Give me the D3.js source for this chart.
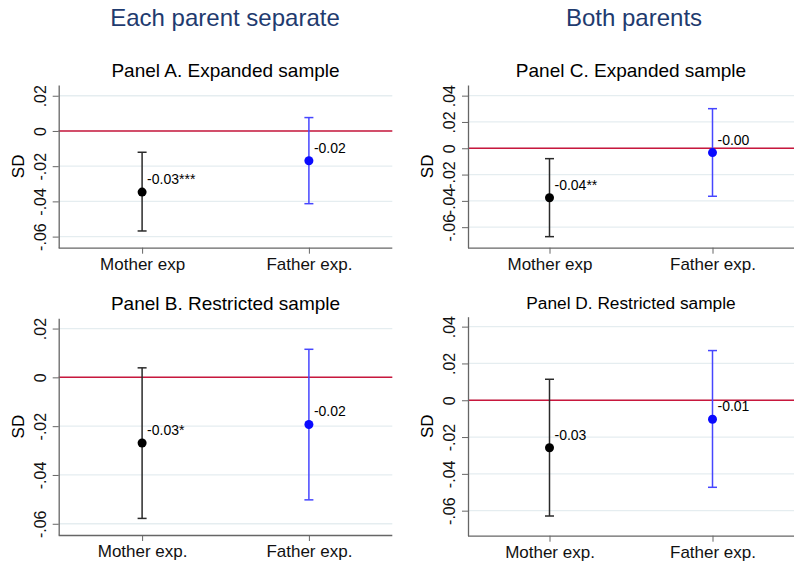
<!DOCTYPE html>
<html>
<head>
<meta charset="utf-8">
<script src="https://cdn.jsdelivr.net/npm/d3@7"></script>
<style>
  body { margin: 0; background: #fff; }
  text { font-family: "Liberation Sans", Arial, sans-serif; }
</style>
</head>
<body>
<div id="chart"></div>
<script>
// values (point estimate, lower / upper CI, label)
const catsExpanded = ["Mother exp", "Father exp."];
const catsRestricted = ["Mother exp.", "Father exp."];

const estA = [-0.0347, -0.0169], loA = [-0.0568, -0.0413], hiA = [-0.0121, 0.0076];
const labA = ["-0.03***", "-0.02"];
const estB = [-0.0269, -0.0193], loB = [-0.0578, -0.0502], hiB = [0.0039, 0.0115];
const labB = ["-0.03*", "-0.02"];
const estC = [-0.0376, -0.0033], loC = [-0.0672, -0.0365], hiC = [-0.0079, 0.0301];
const labC = ["-0.04**", "-0.00"];
const estD = [-0.0258, -0.0103], loD = [-0.0629, -0.0473], hiD = [0.0114, 0.0270];
const labD = ["-0.03", "-0.01"];

const ticksSeparate = [-0.06, -0.04, -0.02, 0, 0.02];
const ticksBoth = [-0.06, -0.04, -0.02, 0, 0.02, 0.04];
const rangeA = [-0.0663, 0.0261], rangeB = [-0.0646, 0.0242];
const rangeC = [-0.0756, 0.0481], rangeD = [-0.0736, 0.0454];

const width = 795, height = 565;
const svg = d3.select("#chart").append("svg")
    .attr("width", width).attr("height", height);

const markColors = ["#000000", "#0a0aff"];
const ciColors = ["#2a2a2a", "#4646ff"];

// stata style tick labels: .02, -.06, 0
function fmt(v) {
    if (Math.abs(v) < 1e-9) return "0";
    return d3.format(".2f")(v).replace("\u2212", "-").replace("0.", ".");
}

// column titles
svg.append("text").attr("x", 225).attr("y", 26).attr("text-anchor", "middle")
    .style("font-size", "24px").attr("fill", "#1f3b6f").text("Each parent separate");
svg.append("text").attr("x", 634).attr("y", 26).attr("text-anchor", "middle")
    .style("font-size", "24px").attr("fill", "#1f3b6f").text("Both parents");

function drawPanel(opt) {
    const x = d3.scalePoint().domain(opt.cats).range([opt.left, opt.right]).padding(0.5);
    const y = d3.scaleLinear().domain(opt.range).range([opt.bottom, opt.top]);
    const g = svg.append("g");

    // title
    g.append("text")
        .attr("x", (opt.left + opt.right) / 2)
        .attr("y", opt.top - 8)
        .attr("text-anchor", "middle")
        .style("font-size", opt.titleSize + "px")
        .text(opt.title);

    // grid lines
    g.selectAll(".grid").data(opt.ticks).enter().append("line")
        .attr("x1", opt.left).attr("x2", opt.right)
        .attr("y1", d => y(d)).attr("y2", d => y(d))
        .attr("stroke", "#e5edf0").attr("stroke-width", 1.3);

    // zero line
    g.append("line")
        .attr("x1", opt.left).attr("x2", opt.right)
        .attr("y1", y(0)).attr("y2", y(0))
        .attr("stroke", "#c8173d").attr("stroke-width", 1.5);

    // y axis
    const ya = g.append("g")
        .attr("transform", "translate(" + opt.left + ",0)")
        .call(d3.axisLeft(y).tickValues(opt.ticks).tickFormat(fmt).tickSize(6).tickSizeOuter(0));
    ya.select(".domain").attr("stroke", "#666").attr("stroke-width", 1.3);
    ya.selectAll(".tick line").attr("stroke", "#666");
    ya.selectAll(".tick text")
        .attr("x", 0).attr("y", -13).attr("dy", 0)
        .attr("text-anchor", "middle")
        .attr("transform", "rotate(-90)")
        .style("font-size", "16px").attr("fill", "#111");

    // x axis
    const xa = g.append("g")
        .attr("transform", "translate(0," + opt.bottom + ")")
        .call(d3.axisBottom(x).tickSize(6).tickSizeOuter(0));
    xa.select(".domain").attr("stroke", "#666").attr("stroke-width", 1.3)
        .attr("d", "M" + opt.left + ",0.5H" + opt.right);
    xa.selectAll(".tick line").attr("stroke", "#666");
    xa.selectAll(".tick text")
        .attr("y", 22).attr("dy", 0)
        .style("font-size", "17px").attr("fill", "#111");

    // axis title
    g.append("text")
        .attr("transform", "translate(" + (opt.left - 35) + "," + ((opt.top + opt.bottom) / 2) + ") rotate(-90)")
        .attr("text-anchor", "middle")
        .style("font-size", "17px")
        .text("SD");

    const rows = opt.cats.map((c, i) => ({cat: c, est: opt.est[i], lo: opt.lo[i], hi: opt.hi[i], lab: opt.lab[i], i: i}));

    // confidence intervals
    rows.forEach(d => {
        const cx = x(d.cat);
        g.append("line").attr("x1", cx).attr("x2", cx)
            .attr("y1", y(d.lo)).attr("y2", y(d.hi))
            .attr("stroke", ciColors[d.i]).attr("stroke-width", 1.5);
        [d.lo, d.hi].forEach(v => {
            g.append("line").attr("x1", cx - 4.5).attr("x2", cx + 4.5)
                .attr("y1", y(v)).attr("y2", y(v))
                .attr("stroke", ciColors[d.i]).attr("stroke-width", 1.5);
        });
    });

    // point estimates
    g.selectAll(".pt").data(rows).enter().append("circle")
        .attr("cx", d => x(d.cat)).attr("cy", d => y(d.est))
        .attr("r", 4.5).attr("fill", d => markColors[d.i]);

    g.selectAll(".lab").data(rows).enter().append("text")
        .attr("x", d => x(d.cat) + 5).attr("y", d => y(d.est) - 8)
        .style("font-size", "14px")
        .text(d => d.lab);
}

drawPanel({title: "Panel A. Expanded sample", titleSize: 19, cats: catsExpanded,
    est: estA, lo: loA, hi: hiA, lab: labA, ticks: ticksSeparate, range: rangeA,
    left: 58.7, right: 392.3, top: 85, bottom: 247.7});
drawPanel({title: "Panel B. Restricted sample", titleSize: 19, cats: catsRestricted,
    est: estB, lo: loB, hi: hiB, lab: labB, ticks: ticksSeparate, range: rangeB,
    left: 58.7, right: 392.3, top: 318.3, bottom: 535});
drawPanel({title: "Panel C. Expanded sample", titleSize: 19, cats: catsExpanded,
    est: estC, lo: loC, hi: hiC, lab: labC, ticks: ticksBoth, range: rangeC,
    left: 468, right: 794, top: 85, bottom: 247.7});
drawPanel({title: "Panel D. Restricted sample", titleSize: 17.3, cats: catsRestricted,
    est: estD, lo: loD, hi: hiD, lab: labD, ticks: ticksBoth, range: rangeD,
    left: 468, right: 794, top: 316.7, bottom: 535.7});
</script>
</body>
</html>
